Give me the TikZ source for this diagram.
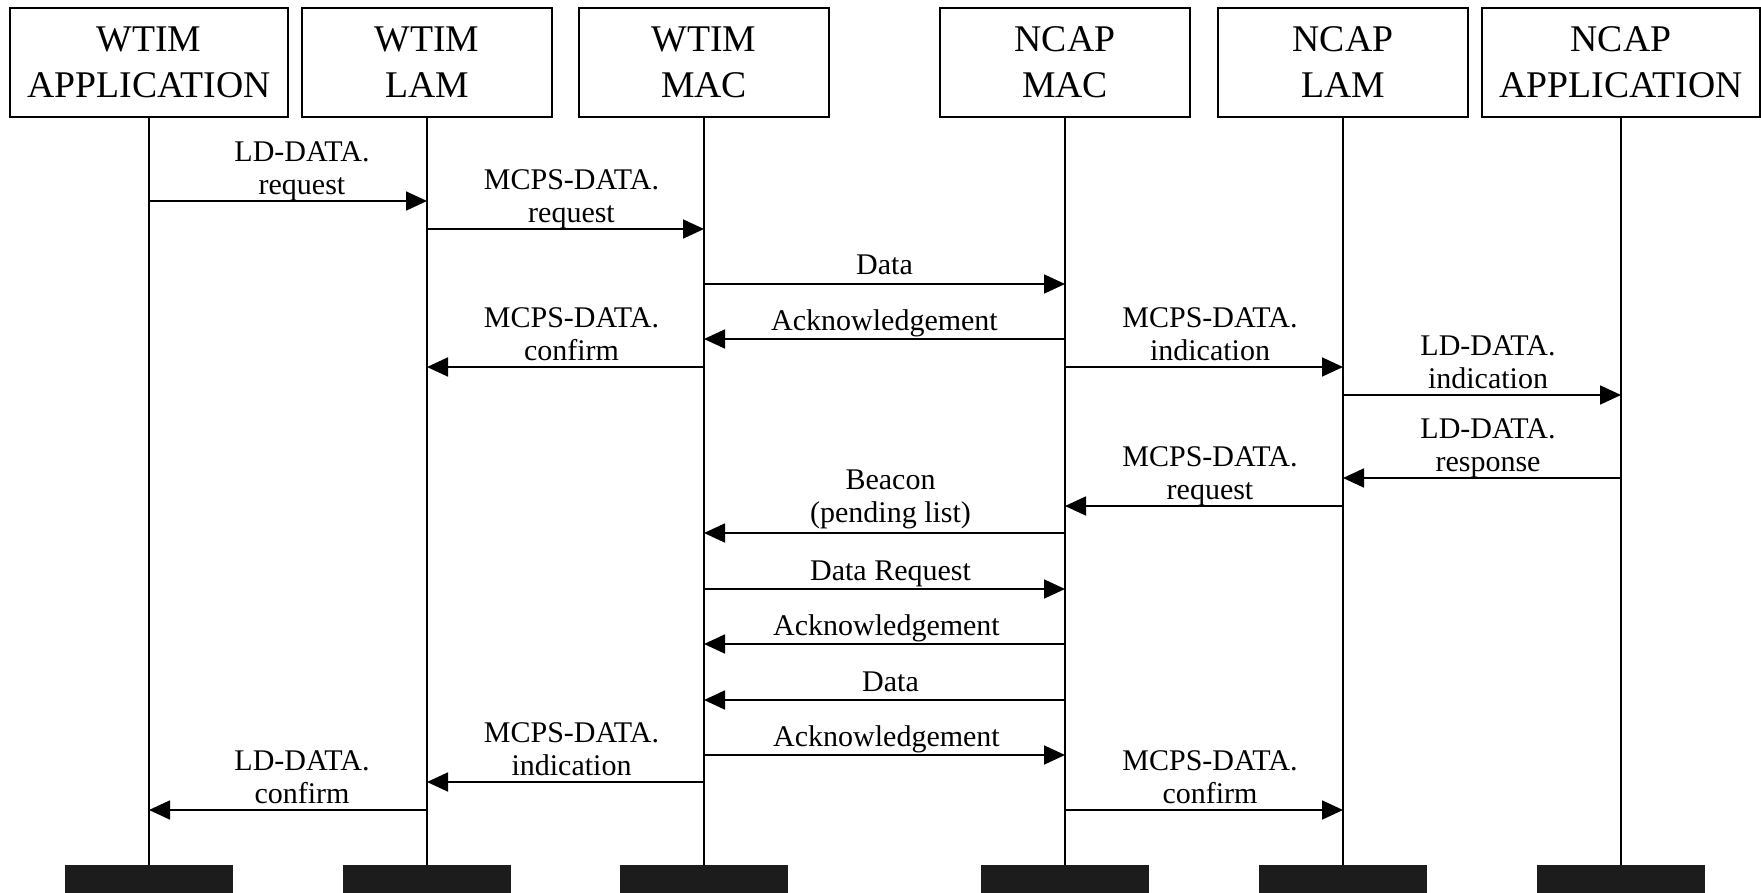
\documentclass[tikz,border=0pt]{standalone}
\usepackage{fontspec}
\setmainfont{Liberation Serif}
\usetikzlibrary{arrows.meta,positioning}

\tikzset{
  entity/.style={draw, line width=0.8pt, minimum width=125pt, minimum height=54.5pt,
    inner sep=0pt, align=center, font=\fontsize{18.85}{23}\selectfont},
  wideentity/.style={entity, minimum width=139pt},
  endbar/.style={fill=black!89, draw=black!89, minimum width=83.5pt, minimum height=14pt, inner sep=0pt},
  life/.style={line width=0.6pt},
  msg/.style={line width=0.9pt, -{Triangle[length=10.5pt,width=9.5pt]}},
  lbl/.style={font=\fontsize{15}{16.5}\selectfont, align=center, inner sep=0pt,
    anchor=south, execute at end node=\strut, yshift=-0.9pt, xshift=3pt},
  twoline/.style={lbl, yshift=-1.2pt}
}

\begin{document}
\begin{tikzpicture}[x=0.5pt,y=-0.5pt]
    \useasboundingbox (0,0) rectangle (1761,893);
    % entities
    \node[wideentity] (wapp) at (149,62.5) {WTIM\\APPLICATION};
    \node[entity] (wlam) at (427,62.5) {WTIM\\LAM};
    \node[entity] (wmac) at (704,62.5) {WTIM\\MAC};
    \node[entity] (nmac) at (1065,62.5) {NCAP\\MAC};
    \node[entity] (nlam) at (1343,62.5) {NCAP\\LAM};
    \node[wideentity] (napp) at (1621,62.5) {NCAP\\APPLICATION};
    % end bars
    \node[endbar] (wappend) at (149,879) {};
    \node[endbar] (wlamend) at (427,879) {};
    \node[endbar] (wmacend) at (704,879) {};
    \node[endbar] (nmacend) at (1065,879) {};
    \node[endbar] (nlamend) at (1343,879) {};
    \node[endbar] (nappend) at (1621,879) {};
    % lifelines
    \foreach \e in {wapp,wlam,wmac,nmac,nlam,napp}
        \draw[life] (\e) -- (\e end);
    % messages
    \draw[msg] (wapp |- 0,201) -- node[twoline,xshift=4pt] {LD-DATA.\\request} (wlam |- 0,201);
    \draw[msg] (wlam |- 0,229) -- node[twoline] {MCPS-DATA.\\request} (wmac |- 0,229);
    \draw[msg] (wmac |- 0,284) -- node[lbl,xshift=-3pt] {Data} (nmac |- 0,284);
    \draw[msg] (nmac |- 0,339) -- node[lbl,xshift=-3pt] {Acknowledgement} (wmac |- 0,339);
    \draw[msg] (wmac |- 0,367) -- node[twoline] {MCPS-DATA.\\confirm} (wlam |- 0,367);
    \draw[msg] (nmac |- 0,367) -- node[twoline] {MCPS-DATA.\\indication} (nlam |- 0,367);
    \draw[msg] (nlam |- 0,395) -- node[twoline] {LD-DATA.\\indication} (napp |- 0,395);
    \draw[msg] (napp |- 0,478) -- node[twoline] {LD-DATA.\\response} (nlam |- 0,478);
    \draw[msg] (nlam |- 0,506) -- node[twoline] {MCPS-DATA.\\request} (nmac |- 0,506);
    \draw[msg] (nmac |- 0,533) -- node[twoline,yshift=2pt] {Beacon\\(pending list)} (wmac |- 0,533);
    \draw[msg] (wmac |- 0,589) -- node[lbl] {Data Request} (nmac |- 0,589);
    \draw[msg] (nmac |- 0,644) -- node[lbl,xshift=-2pt] {Acknowledgement} (wmac |- 0,644);
    \draw[msg] (nmac |- 0,700) -- node[lbl] {Data} (wmac |- 0,700);
    \draw[msg] (wmac |- 0,755) -- node[lbl,xshift=-2pt] {Acknowledgement} (nmac |- 0,755);
    \draw[msg] (wmac |- 0,782) -- node[twoline] {MCPS-DATA.\\indication} (wlam |- 0,782);
    \draw[msg] (wlam |- 0,810) -- node[twoline,xshift=4pt] {LD-DATA.\\confirm} (wapp |- 0,810);
    \draw[msg] (nmac |- 0,810) -- node[twoline] {MCPS-DATA.\\confirm} (nlam |- 0,810);
\end{tikzpicture}
\end{document}
